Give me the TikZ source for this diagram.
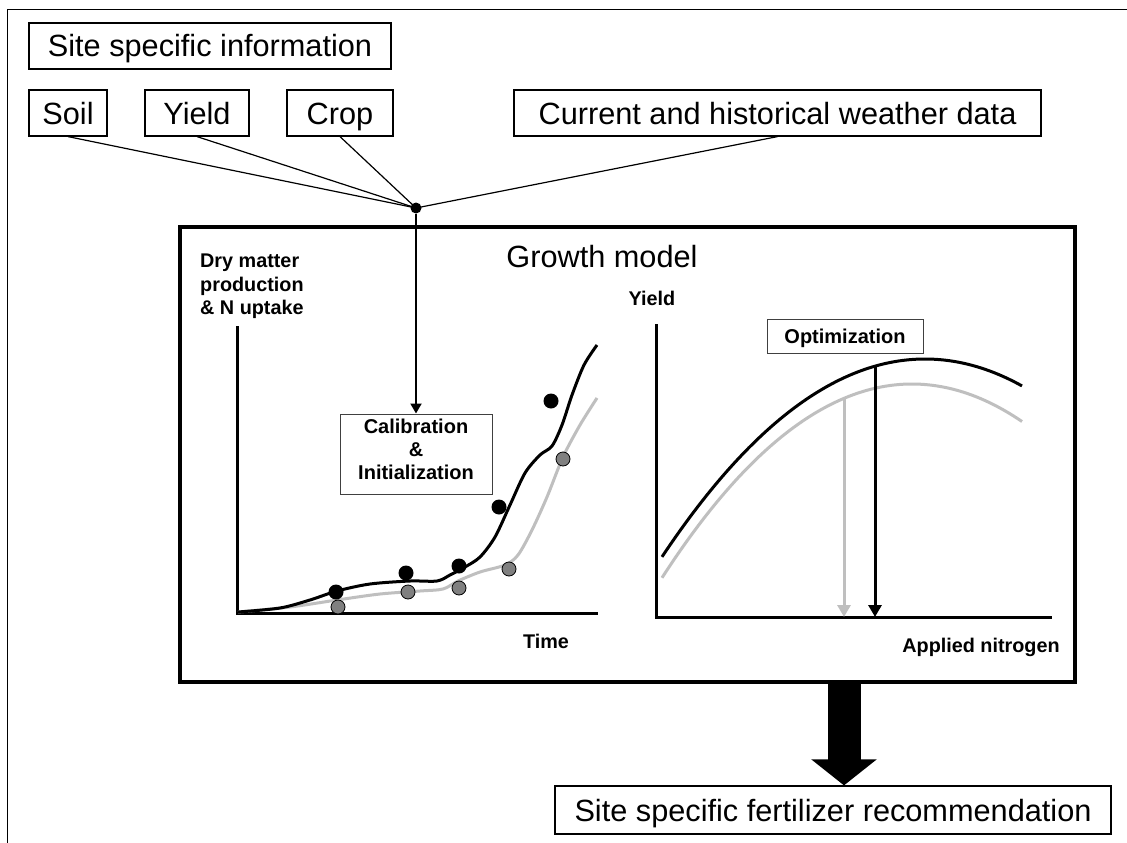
\documentclass[tikz,border=0pt]{standalone}
\usepackage{fontspec}
\setmainfont{Liberation Sans}
\usetikzlibrary{arrows.meta}
\definecolor{lightcurve}{gray}{0.75}
\definecolor{darkdot}{gray}{0.5}

\begin{document}
\begin{tikzpicture}[x=1pt, y=-1pt,
	infobox/.style={draw, line width=1.2pt, inner sep=0pt, minimum height=46pt, text height=22pt, text depth=0pt, font=\fontsize{30.7}{36}\selectfont},
	smallbox/.style={draw=black!75, line width=1pt, inner sep=0pt, font=\fontsize{20}{23}\selectfont\bfseries},
	axislabel/.style={inner sep=0pt, font=\fontsize{19.8}{23.5}\selectfont\bfseries},
	axisline/.style={line width=3pt},
	blackcurve/.style={line width=3pt},
	graycurve/.style={line width=3pt, lightcurve},
	blackdot/.style={circle, fill=black, inner sep=0pt, minimum size=15pt},
	graydot/.style={circle, draw=black, line width=0.8pt, fill=darkdot, inner sep=0pt, minimum size=14pt},
	feedline/.style={line width=1.2pt},
	hubarrow/.style={line width=2pt, -{Triangle[length=10pt, width=11pt]}},
	optarrow/.style={line width=3pt, -{Triangle[length=12pt, width=13pt]}},
	bigarrow/.style={line width=33pt, -{Triangle[length=26pt, width=64pt]}}]

	\useasboundingbox[fill=white] (0,0) rectangle (1127,843);
	\draw[line width=1pt] (7,843) -- (7,10) -- (1127,10);

	\node[infobox, minimum width=362pt] (site) at (210,46) {Site specific information};
	\node[infobox, minimum width=78pt] (soil) at (68,113) {Soil};
	\node[infobox, minimum width=104pt] (yield) at (197,113) {Yield};
	\node[infobox, minimum width=106pt] (crop) at (340,113) {Crop};
	\node[infobox, minimum width=527pt] (weather) at (777.5,113) {Current and historical weather data};

	\node[circle, fill=black, inner sep=0pt, minimum size=11pt] (hub) at (416,208) {};
	\foreach \src in {soil,yield,crop,weather}
		\draw[feedline] (\src.south) -- (hub.center);

	\node[draw, line width=4pt, inner sep=0pt, minimum width=895pt, minimum height=455pt] (model) at (627.5,454.5) {};
	\node[inner sep=0pt, anchor=base, font=\fontsize{30.7}{36}\selectfont] (title) at (602,267) {Growth model};

	\node[axislabel, align=left, anchor=north west] (dmlabel) at (200,254) {Dry matter\\production\\\& N uptake};
	\draw[axisline] (237,326) |- (598,613);
	\node[axislabel, anchor=base] (timelabel) at (546,648) {Time};

	\draw[graycurve] plot[smooth, tension=0.5] coordinates {(238,612) (290,607) (337,600) (380,594) (420,591) (443,589) (458,581) (480,572) (505,565) (518,555) (532,530) (547,497) (563,457) (580,425) (597,398)};
	\draw[blackcurve] plot[smooth, tension=0.5] coordinates {(238,612) (280,608) (310,600) (337,591) (370,584) (410,581) (437,581) (450,575) (465,567) (480,557) (495,537) (510,505) (525,473) (540,455) (552,446) (562,425) (572,395) (584,365) (597,345)};
	\foreach \x/\y [count=\i] in {338/607, 408/592, 459/588, 509/569, 563/459}
		\node[graydot] (g\i) at (\x,\y) {};
	\foreach \x/\y [count=\i] in {336/592, 406/573, 459/566, 499/507, 551/401}
		\node[blackdot] (b\i) at (\x,\y) {};

	\node[smallbox, minimum width=152pt, minimum height=80pt, align=center, text depth=10pt] (calib) at (416,454) {Calibration\\\&\\Initialization};
	\draw[hubarrow] (hub) -- (calib);

	\node[axislabel, anchor=base] (yieldlabel) at (652,305) {Yield};
	\draw[axisline] (656,324) |- (1052,617);
	\node[axislabel, anchor=base] (nlabel) at (981,652) {Applied nitrogen};
	\node[smallbox, minimum width=156pt, minimum height=34pt, text height=14.3pt, text depth=0pt] (optim) at (845,336) {Optimization};

	\draw[graycurve] plot[domain=662:1022, samples=80] (\x, {384+(0.05568*(\x-912))^2});
	\draw[blackcurve] plot[domain=662:1022, samples=80] (\x, {359+(0.05348*(\x-925))^2});
	\coordinate (grayopt) at (844,398);
	\coordinate (blackopt) at (875,366);
	\draw[optarrow, lightcurve] (grayopt) -- (grayopt |- 0,617);
	\draw[optarrow] (blackopt) -- (blackopt |- 0,617);

	\node[infobox, minimum width=556pt, minimum height=48pt] (fert) at (833,810) {Site specific fertilizer recommendation};
	\coordinate (outlet) at ([xshift=11pt]fert.north);
	\draw[bigarrow] (model.south -| outlet) -- (outlet);
\end{tikzpicture}
\end{document}
